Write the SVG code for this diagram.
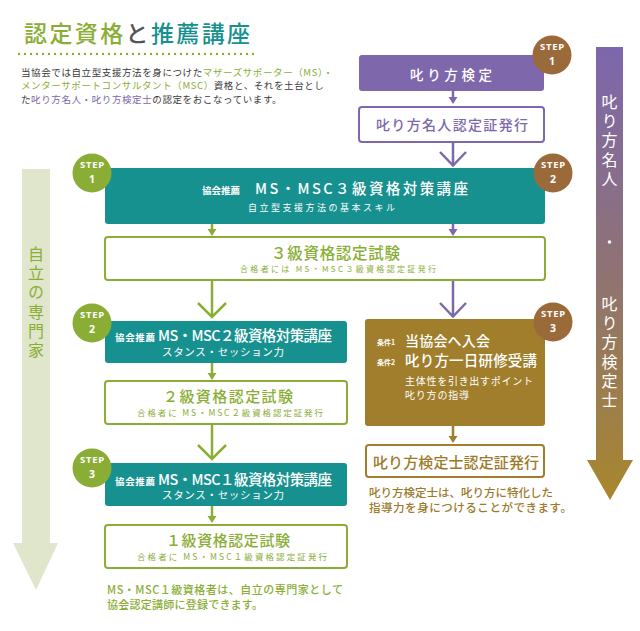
<svg xmlns="http://www.w3.org/2000/svg" width="640" height="631" viewBox="0 0 640 631">
<defs>
<linearGradient id="gradR" x1="0" y1="0" x2="0" y2="1">
<stop offset="0" stop-color="#7d67ad"/>
<stop offset="0.5" stop-color="#8f7373"/>
<stop offset="1" stop-color="#a8872c"/>
</linearGradient>
<style>
text{font-family:"Noto Sans CJK JP","Noto Sans",sans-serif;}
.w{fill:#fff}
.g{fill:#8aae35}
.t{fill:#17918f}
.p{fill:#7e68ab}
.au{fill:#9c7a2a}
.dk{fill:#3a3a3a}
.m{font-weight:500}
.para{font-size:9.5px;letter-spacing:0.6px}
.teal{fill:#17918f}
.gbox{fill:#fff;stroke:#8aae35;stroke-width:2}
.pbox{fill:#fff;stroke:#7e68ab;stroke-width:2}
.aubox{fill:#fff;stroke:#a07e2c;stroke-width:2}
.sg{fill:#8aae35}
.sb{fill:#9b6a3b}
.st{font-family:"Noto Sans","DejaVu Sans",sans-serif;font-size:9.5px;font-weight:bold;fill:#fff;text-anchor:middle;letter-spacing:0.8px}
.sn{font-family:"Noto Sans","DejaVu Sans",sans-serif;font-size:10.5px;font-weight:bold;fill:#fff;text-anchor:middle}
.lg{stroke:#8aae35;stroke-width:2.5;fill:none}
.lp{stroke:#7e68ab;stroke-width:2.5;fill:none}
.la{stroke:#a07e2c;stroke-width:2.5;fill:none}
.vt{font-size:16px;writing-mode:vertical-rl;letter-spacing:3.2px}
</style>
</defs>
<rect width="640" height="631" fill="#fff"/>

<g id="header">
<text x="24" y="42" font-size="23" class="m" textLength="226" lengthAdjust="spacing"><tspan class="g">認定資格</tspan><tspan fill="#555">と</tspan><tspan class="t">推薦講座</tspan></text>
<line x1="19" y1="54" x2="257" y2="54" stroke="#8aae35" stroke-width="2.4" stroke-linecap="round" stroke-dasharray="0 6"/>
<text class="para" x="21" y="75.5"><tspan class="dk">当協会では自立型支援方法を身につけた</tspan><tspan class="g">マザーズサポーター（MS）・</tspan></text>
<text class="para" x="21" y="89.3"><tspan class="g">メンターサポートコンサルタント（MSC）</tspan><tspan class="dk">資格と、それを土台とし</tspan></text>
<text class="para" x="21" y="103.1"><tspan class="dk">た</tspan><tspan class="p">叱り方名人・叱り方検定士</tspan><tspan class="dk">の認定をおこなっています。</tspan></text>
</g>

<g id="arrow-left">
<path d="M22 169 H50 V543 H58 L36 590 L13 543 H22 Z" fill="#dfe6cc"/>
<text class="vt g" x="36" y="246">自立の専門家</text>
</g>

<g id="arrow-right">
<path d="M596 47 H623 V460 H633 L610 500 L587 460 H596 Z" fill="url(#gradR)"/>
<text class="vt w" x="609.5" y="94">叱り方名人</text>
<circle cx="609.5" cy="242" r="1.8" fill="#fff"/>
<text class="vt w" x="609.5" y="296">叱り方検定士</text>
</g>

<g id="connectors">
<line class="lp" x1="453" y1="91" x2="453" y2="98"/>
<path d="M448.5 97 H457.5 L453 104 Z" fill="#7e68ab"/>
<line class="lp" x1="453" y1="142" x2="453" y2="166"/>
<polyline class="lp" points="440,152 453,165.5 466,152"/>
<line class="lg" x1="212" y1="224" x2="212" y2="230"/>
<path d="M207.5 229 H216.5 L212 236 Z" fill="#8aae35"/>
<line class="lp" x1="453" y1="224" x2="453" y2="230"/>
<path d="M448.5 229 H457.5 L453 236 Z" fill="#7e68ab"/>
<line class="lg" x1="212" y1="280" x2="212" y2="317"/>
<polyline class="lg" points="198,303 212,317 226,303"/>
<line class="lp" x1="453" y1="280" x2="453" y2="317"/>
<polyline class="lp" points="440,303 453,316.5 466,303"/>
<line class="lg" x1="212" y1="363" x2="212" y2="374"/>
<path d="M207.5 373 H216.5 L212 380 Z" fill="#8aae35"/>
<line class="lg" x1="212" y1="424" x2="212" y2="459"/>
<polyline class="lg" points="198,445 212,459 226,445"/>
<line class="lg" x1="212" y1="506" x2="212" y2="517"/>
<path d="M207.5 516 H216.5 L212 523 Z" fill="#8aae35"/>
<line class="la" x1="453" y1="426" x2="453" y2="437"/>
<path d="M448.5 436 H457.5 L453 443 Z" fill="#a07e2c"/>
</g>

<g id="kentei">
<rect x="359" y="55" width="185" height="36" rx="3" fill="#7e68ab"/>
<text x="410" y="80" font-size="13.5" class="w m" textLength="82" lengthAdjust="spacing">叱り方検定</text>
</g>
<g id="step1-right">
<circle cx="552" cy="55" r="19.5" class="sb"/>
<text class="st" x="552.5" y="50">STEP</text>
<text class="sn" x="552" y="64.5">1</text>
</g>
<g id="meijin-cert">
<rect x="359" y="107" width="185" height="35" rx="3" class="pbox"/>
<text x="376" y="130" font-size="14" class="p m" textLength="152" lengthAdjust="spacing">叱り方名人認定証発行</text>
</g>

<g id="course3">
<rect x="105" y="168" width="440" height="56" rx="3" class="teal"/>
<text x="202" y="194" font-size="9.5" font-weight="bold" class="w" textLength="38" lengthAdjust="spacing">協会推薦</text>
<text x="255" y="194" font-size="14.5" class="w m" textLength="213" lengthAdjust="spacing">MS・MSC３級資格対策講座</text>
<text x="248" y="211" font-size="9" class="w" textLength="147" lengthAdjust="spacing">自立型支援方法の基本スキル</text>
</g>
<g id="step1-left">
<circle cx="92" cy="173" r="19.5" class="sg"/>
<text class="st" x="92.5" y="168">STEP</text>
<text class="sn" x="92" y="182.5">1</text>
</g>
<g id="step2-right">
<circle cx="553" cy="173" r="19.5" class="sb"/>
<text class="st" x="553.5" y="168">STEP</text>
<text class="sn" x="553" y="182.5">2</text>
</g>

<g id="exam3">
<rect x="105" y="237" width="440" height="43" rx="3" class="gbox"/>
<text x="271" y="259" font-size="15.5" class="g m" textLength="129" lengthAdjust="spacing">３級資格認定試験</text>
<text x="240" y="272" font-size="8" class="g" textLength="196" lengthAdjust="spacing">合格者には MS・MSC３級資格認定証発行</text>
</g>

<g id="course2">
<rect x="105" y="321" width="242" height="42" rx="3" class="teal"/>
<text x="115" y="341" font-size="9.5" font-weight="bold" class="w" textLength="40" lengthAdjust="spacing">協会推薦</text>
<text x="158" y="341" font-size="14.5" class="w m" textLength="174" lengthAdjust="spacing">MS・MSC２級資格対策講座</text>
<text x="162" y="355.5" font-size="10.5" class="w" textLength="122" lengthAdjust="spacing">スタンス・セッション力</text>
</g>
<g id="step2-left">
<circle cx="92" cy="323" r="19.5" class="sg"/>
<text class="st" x="92.5" y="318">STEP</text>
<text class="sn" x="92" y="332.5">2</text>
</g>

<g id="exam2">
<rect x="105" y="381" width="242" height="43" rx="3" class="gbox"/>
<text x="163" y="402" font-size="15" class="g m" textLength="130" lengthAdjust="spacing">２級資格認定試験</text>
<text x="137" y="416" font-size="8.5" class="g" textLength="186" lengthAdjust="spacing">合格者に MS・MSC２級資格認定証発行</text>
</g>

<g id="course1">
<rect x="105" y="463" width="242" height="43" rx="3" class="teal"/>
<text x="115" y="484.5" font-size="9.5" font-weight="bold" class="w" textLength="40" lengthAdjust="spacing">協会推薦</text>
<text x="158" y="484.5" font-size="14.5" class="w m" textLength="174" lengthAdjust="spacing">MS・MSC１級資格対策講座</text>
<text x="162" y="499" font-size="10.5" class="w" textLength="122" lengthAdjust="spacing">スタンス・セッション力</text>
</g>
<g id="step3-left">
<circle cx="92" cy="468" r="19.5" class="sg"/>
<text class="st" x="92.5" y="463">STEP</text>
<text class="sn" x="92" y="477.5">3</text>
</g>

<g id="exam1">
<rect x="105" y="525" width="242" height="43" rx="3" class="gbox"/>
<text x="166" y="546" font-size="15" class="g m" textLength="124" lengthAdjust="spacing">１級資格認定試験</text>
<text x="137" y="560" font-size="8.5" class="g" textLength="190" lengthAdjust="spacing">合格者に MS・MSC１級資格認定証発行</text>
</g>
<g id="note-left">
<text x="107" y="594" font-size="11" class="g m" textLength="236" lengthAdjust="spacing">MS・MSC１級資格者は、自立の専門家として</text>
<text x="107" y="609" font-size="11" class="g m" textLength="156" lengthAdjust="spacing">協会認定講師に登録できます。</text>
</g>

<g id="training">
<rect x="365" y="319" width="180" height="107" rx="3" fill="#a07e2c"/>
<text x="377" y="345" font-size="7" font-weight="bold" class="w">条件1</text>
<text x="405" y="346" font-size="14" class="w m" textLength="85" lengthAdjust="spacing">当協会へ入会</text>
<text x="377" y="365" font-size="7" font-weight="bold" class="w">条件2</text>
<text x="405" y="366" font-size="14.5" class="w m" textLength="132" lengthAdjust="spacing">叱り方一日研修受講</text>
<text x="405" y="384.5" font-size="10" class="w" textLength="128" lengthAdjust="spacing">主体性を引き出すポイント</text>
<text x="405" y="398.5" font-size="10" class="w" textLength="64" lengthAdjust="spacing">叱り方の指導</text>
</g>
<g id="step3-right">
<circle cx="553" cy="322" r="19.5" class="sb"/>
<text class="st" x="553.5" y="317">STEP</text>
<text class="sn" x="553" y="331.5">3</text>
</g>

<g id="kenteishi-cert">
<rect x="366" y="445" width="178" height="32" rx="3" class="aubox"/>
<text x="373" y="468" font-size="15" class="au m" textLength="166" lengthAdjust="spacing">叱り方検定士認定証発行</text>
</g>
<g id="note-right">
<text x="369" y="496.5" font-size="11.5" class="au m" textLength="184" lengthAdjust="spacing">叱り方検定士は、叱り方に特化した</text>
<text x="369" y="512" font-size="11.5" class="au m" textLength="203" lengthAdjust="spacing">指導力を身につけることができます。</text>
</g>
</svg>
